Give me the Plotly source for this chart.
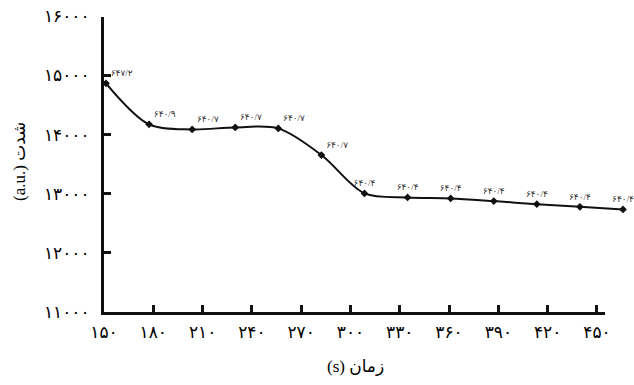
import plotly.graph_objects as go

# Data
time_s = [150, 175, 200, 225, 250, 275, 300, 325, 350, 375, 400, 425, 450]
intensity = [14868, 14173, 14088, 14122, 14105, 13653, 13003, 12936, 12919, 12873, 12822, 12777, 12732]
peak_labels = ["۶۴۷/۲", "۶۴۰/۹", "۶۴۰/۷", "۶۴۰/۷", "۶۴۰/۷", "۶۴۰/۷",
               "۶۴۰/۴", "۶۴۰/۴", "۶۴۰/۴", "۶۴۰/۴", "۶۴۰/۴", "۶۴۰/۴", "۶۴۰/۴"]
x_tick_vals = [150, 180, 210, 240, 270, 300, 330, 360, 390, 420, 450]
x_tick_text = ["۱۵۰", "۱۸۰", "۲۱۰", "۲۴۰", "۲۷۰", "۳۰۰", "۳۳۰", "۳۶۰", "۳۹۰", "۴۲۰", "۴۵۰"]
y_tick_vals = [11000, 12000, 13000, 14000, 15000, 16000]
y_tick_text = ["۱۱۰۰۰", "۱۲۰۰۰", "۱۳۰۰۰", "۱۴۰۰۰", "۱۵۰۰۰", "۱۶۰۰۰"]
x_title = "زمان (s)"
y_title = "شدت (a.u.\u200E)"

FONT = "Times New Roman, Liberation Serif, DejaVu Serif, DejaVu Sans, serif"
W, H = 634, 385
RLE, PDF = "\u202B", "\u202C"

fig = go.Figure()
# invisible trace so that the main (tick-bearing) axes are drawn
fig.add_trace(go.Scatter(
    x=[x_tick_vals[0]], y=[y_tick_vals[0]], xaxis="x", yaxis="y",
    mode="markers", marker=dict(opacity=0), hoverinfo="skip", showlegend=False,
))
fig.add_trace(go.Scatter(
    x=time_s, y=intensity, xaxis="x2", yaxis="y",
    mode="lines+markers+text",
    line=dict(color="#111111", width=2, shape="spline", smoothing=0.9),
    marker=dict(symbol="diamond", size=6, color="#111111"),
    text=peak_labels,
    textposition=["top right"] * 6 + ["top center"] * 7,
    textfont=dict(family=FONT, size=9, color="#333333"),
    cliponaxis=False,
    showlegend=False,
))

fig.update_layout(
    width=W, height=H,
    margin=dict(l=0, r=0, t=0, b=0, autoexpand=False),
    paper_bgcolor="white", plot_bgcolor="rgba(0,0,0,0)",
    font=dict(family=FONT, color="#000000"),
    xaxis=dict(
        domain=[104 / W, 605 / W], range=[150, 454.9],
        tickvals=x_tick_vals, ticktext=x_tick_text,
        ticks="inside", ticklen=7, tickwidth=2.5, tickcolor="#111111",
        showline=True, linewidth=3, linecolor="#111111",
        showgrid=False, zeroline=False, anchor="y", automargin=False,
        tickfont=dict(size=17, family=FONT, color="#000000"),
        ticklabelstandoff=3,
    ),
    xaxis2=dict(
        domain=[106 / W, 623 / W], range=[150, 450],
        visible=False, anchor="y", showgrid=False, zeroline=False, automargin=False,
    ),
    yaxis=dict(
        domain=[1 - 311.7 / H, 1 - 16.5 / H], range=[11000, 16000],
        tickvals=y_tick_vals, ticktext=y_tick_text,
        ticks="inside", ticklen=7, tickwidth=2.5, tickcolor="#111111",
        showline=True, linewidth=3, linecolor="#111111",
        showgrid=False, zeroline=False, anchor="x", automargin=False,
        tickfont=dict(size=17, family=FONT, color="#000000"),
        ticklabelstandoff=8,
    ),
    annotations=[
        dict(text=RLE + x_title + PDF, xref="paper", yref="paper", x=355 / W, y=1 - 366 / H,
             showarrow=False, font=dict(size=17, family=FONT, color="#000000"),
             xanchor="center", yanchor="middle"),
        dict(text=RLE + y_title + PDF, xref="paper", yref="paper", x=20 / W, y=1 - 162 / H,
             showarrow=False, textangle=-90, font=dict(size=17, family=FONT, color="#000000"),
             xanchor="center", yanchor="middle"),
    ],
)

fig.write_html("out.html")
